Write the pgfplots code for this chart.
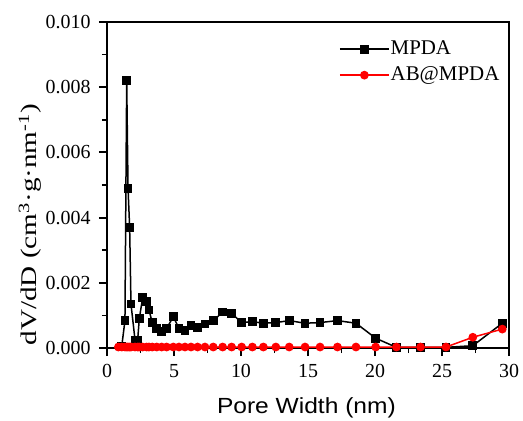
\documentclass[border=0pt]{standalone}
\usepackage{fontspec}
\setmainfont{Liberation Serif}
\newfontfamily\arial{Liberation Sans}
\usepackage{pgfplots}
\pgfplotsset{compat=1.18}
\begin{document}
\begin{tikzpicture}
\begin{axis}[
  at={(0,0)}, anchor=south west,
  scale only axis, width=402bp, height=326bp,
  xmin=0, xmax=30, ymin=0, ymax=0.010,
  xtick={0,5,10,15,20,25,30},
  ytick={0,0.002,0.004,0.006,0.008,0.010},
  minor xtick={2.5,7.5,12.5,17.5,22.5,27.5},
  minor ytick={0.001,0.003,0.005,0.007,0.009},
  tick align=outside, xtick pos=bottom, ytick pos=left,
  major tick length=8bp, minor tick length=5bp,
  axis line style={line width=1.8bp},
  major tick style={black, line width=2bp},
  minor tick style={black, line width=1.8bp},
  tick label style={font=\fontsize{20}{24}\selectfont},
  xticklabel style={yshift=-5bp},
  /pgf/number format/assume math mode=true,
  scaled y ticks=false,
  yticklabel style={xshift=-5bp, /pgf/number format/.cd, fixed, fixed zerofill, precision=3},
  xlabel={\arial\scalebox{1.12}[1]{Pore Width (nm)}},
  xlabel style={font=\fontsize{22}{26}\selectfont, at={(axis description cs:0.496,-0.184)}, anchor=center},
  ylabel={\scalebox{1.3}[1]{dV/dD (cm\textsuperscript{3}·g·nm\textsuperscript{-1})}},
  ylabel style={font=\fontsize{22.5}{27}\selectfont, at={(axis description cs:-0.1915,0.378)}, anchor=center},
  legend style={draw=none, fill=none, at={(axis description cs:0.577,0.948)}, anchor=north west,
    font=\fontsize{21}{25}\selectfont, inner sep=0pt, row sep=6bp,
    nodes={inner sep=1bp, text height=14bp, text depth=4bp}},
  legend cell align=left,
  legend image code/.code={\draw[mark repeat=2,mark phase=2,#1] plot coordinates {(0bp,0bp)(24.5bp,0bp)(49bp,0bp)};},
]
\addplot[black, line width=1.5bp, mark=square*, mark size=3.6bp, mark options={solid}] coordinates {
(1.1,0.00005) (1.34,0.00084) (1.47,0.0082) (1.57,0.0049) (1.69,0.0037) (1.79,0.00135)
(2.09,0.00025) (2.29,0.00025) (2.41,0.0009) (2.66,0.00154) (2.96,0.00142) (3.13,0.00117)
(3.38,0.00078) (3.71,0.0006) (4.08,0.0005) (4.45,0.0006) (4.95,0.00096) (5.37,0.0006)
(5.82,0.00053) (6.27,0.0007) (6.76,0.00063) (7.31,0.00074) (7.93,0.00084) (8.63,0.0011)
(9.3,0.00106) (10.05,0.00078) (10.85,0.00081) (11.67,0.00076) (12.6,0.00078) (13.6,0.00084)
(14.78,0.00076) (15.9,0.00078) (17.2,0.00084) (18.58,0.00076) (20.05,0.0003) (21.6,0.00002)
(23.4,0.00002) (25.3,0.00002) (27.3,0.00007) (29.5,0.00076)
};
\addlegendentry{MPDA}
\addplot[red, line width=1.5bp, mark=*, mark size=3.6bp, mark options={solid}] coordinates {
(0.85,0.00003) (1.1,0.00003) (1.34,0.00003) (1.47,0.00003) (1.57,0.00003) (1.69,0.00003) (1.79,0.00003)
(2.09,0.00003) (2.29,0.00003) (2.41,0.00003) (2.66,0.00003) (2.96,0.00003) (3.13,0.00003)
(3.38,0.00003) (3.71,0.00003) (4.08,0.00003) (4.45,0.00003) (4.95,0.00003) (5.37,0.00003)
(5.82,0.00003) (6.27,0.00003) (6.76,0.00003) (7.31,0.00003) (7.93,0.00003) (8.63,0.00003)
(9.3,0.00003) (10.05,0.00003) (10.85,0.00003) (11.67,0.00003) (12.6,0.00003) (13.6,0.00003)
(14.78,0.00003) (15.9,0.00003) (17.2,0.00003) (18.58,0.00003) (20.05,0.00003) (21.6,0.00003)
(23.4,0.00003) (25.3,0.00003) (27.3,0.00033) (29.5,0.00058)
};
\addlegendentry{AB@MPDA}
\end{axis}
\pgfresetboundingbox
\path[use as bounding box] (-107bp,-73bp) rectangle (416bp,348bp);
\end{tikzpicture}
\end{document}
